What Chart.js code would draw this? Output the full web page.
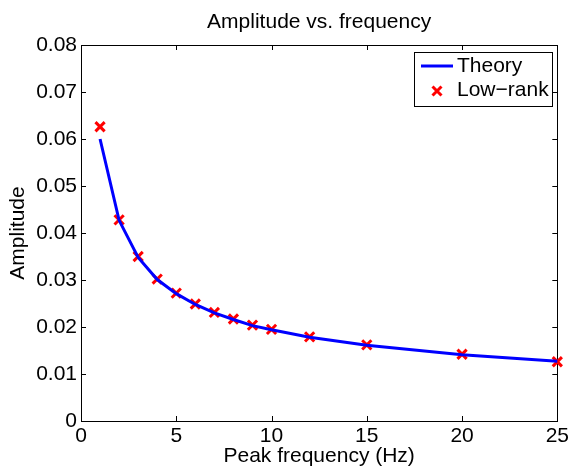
<!DOCTYPE html>
<html>
<head>
<meta charset="utf-8">
<script src="https://cdn.jsdelivr.net/npm/chart.js@4/dist/chart.umd.min.js"></script>
<style>
  body { margin: 0; background: #fff; }
</style>
</head>
<body>
<canvas id="chart-amplitude" width="572" height="471"></canvas>
<script>
// values
const frequencies = [1, 2, 3, 4, 5, 6, 7, 8, 9, 10, 12, 15, 20, 25];
const theoryAmp = [0.0600, 0.0427, 0.0348, 0.0301, 0.0271, 0.0248, 0.0230, 0.0216, 0.0203, 0.0194, 0.0178, 0.0161, 0.0141, 0.0127];
const lowRankAmp = [0.0626, 0.0428, 0.0350, 0.0302, 0.0272, 0.0249, 0.0231, 0.0217, 0.0204, 0.0195, 0.0179, 0.0162, 0.0142, 0.0126];
const xTicks = [0, 5, 10, 15, 20, 25];
const yTicks = [0, 0.01, 0.02, 0.03, 0.04, 0.05, 0.06, 0.07, 0.08];

const fontFamily = "'Liberation Sans', Arial, Helvetica, sans-serif";
const fontSize = 21;
Chart.defaults.font.family = fontFamily;
Chart.defaults.color = "#000";

// box round the axes, ticks pointing inwards on all four sides
const matlabFrame = {
  id: "matlabFrame",
  beforeDatasetsDraw(chart) {
    const { ctx, chartArea: a, scales } = chart;
    ctx.save();
    ctx.strokeStyle = "#000";
    ctx.lineWidth = 1;
    ctx.beginPath();
    scales.x.ticks.forEach((t) => {
      const px = Math.round(scales.x.getPixelForValue(t.value)) + 0.5;
      ctx.moveTo(px, a.bottom);
      ctx.lineTo(px, a.bottom - 5);
      ctx.moveTo(px, a.top);
      ctx.lineTo(px, a.top + 5);
    });
    scales.y.ticks.forEach((t) => {
      const py = Math.round(scales.y.getPixelForValue(t.value)) + 0.5;
      ctx.moveTo(a.left, py);
      ctx.lineTo(a.left + 5, py);
      ctx.moveTo(a.right, py);
      ctx.lineTo(a.right - 5, py);
    });
    ctx.stroke();
    ctx.strokeRect(Math.round(a.left) + 0.5, Math.round(a.top) + 0.5,
      Math.round(a.right - a.left), Math.round(a.bottom - a.top));
    ctx.restore();
  },
};

// legend in a box at the top right of the axes
const boxLegend = {
  id: "boxLegend",
  afterDraw(chart) {
    const { ctx, chartArea: a } = chart;
    const ds = chart.data.datasets;
    const x0 = Math.round(a.right) - 143;
    const y0 = Math.round(a.top) + 7;
    ctx.save();
    ctx.fillStyle = "#fff";
    ctx.fillRect(x0, y0, 138, 54);
    ctx.strokeStyle = "#000";
    ctx.lineWidth = 1;
    ctx.strokeRect(x0 + 0.5, y0 + 0.5, 138, 54);

    ctx.strokeStyle = ds[0].borderColor;
    ctx.lineWidth = ds[0].borderWidth;
    ctx.beginPath();
    ctx.moveTo(x0 + 7, y0 + 14);
    ctx.lineTo(x0 + 39, y0 + 14);
    ctx.stroke();

    ctx.strokeStyle = ds[1].borderColor;
    ctx.lineWidth = ds[1].borderWidth;
    ctx.beginPath();
    const cx = x0 + 23, cy = y0 + 39, r = 4.5;
    ctx.moveTo(cx - r, cy - r);
    ctx.lineTo(cx + r, cy + r);
    ctx.moveTo(cx - r, cy + r);
    ctx.lineTo(cx + r, cy - r);
    ctx.stroke();

    ctx.fillStyle = "#000";
    ctx.font = fontSize + "px " + fontFamily;
    ctx.textBaseline = "middle";
    ctx.textAlign = "left";
    ctx.fillText(ds[0].label, x0 + 43, y0 + 14);
    ctx.fillText(ds[1].label, x0 + 43, y0 + 38.5);
    ctx.restore();
  },
};

const ctxAmplitude = document.getElementById("chart-amplitude");
new Chart(ctxAmplitude, {
  type: "line",
  data: {
    datasets: [
      {
        label: "Theory",
        data: frequencies.map((f, i) => ({ x: f, y: theoryAmp[i] })),
        borderColor: "#0000ff",
        backgroundColor: "#0000ff",
        borderWidth: 3,
        pointRadius: 0,
        tension: 0,
        clip: false,
      },
      {
        label: "Low\u2212rank",
        data: frequencies.map((f, i) => ({ x: f, y: lowRankAmp[i] })),
        showLine: false,
        pointStyle: "crossRot",
        pointRadius: 6.5,
        borderColor: "#ff0000",
        backgroundColor: "#ff0000",
        borderWidth: 3,
        clip: false,
      },
    ],
  },
  options: {
    responsive: false,
    animation: false,
    events: [],
    layout: { padding: { left: 0, right: 13, top: 0, bottom: 0 } },
    plugins: {
      legend: { display: false },
      tooltip: { enabled: false },
      title: {
        display: true,
        fullSize: false,
        text: "Amplitude vs. frequency",
        color: "#000",
        font: { size: fontSize, weight: "normal" },
        padding: { top: 10, bottom: 9.8 },
      },
    },
    scales: {
      x: {
        type: "linear",
        min: 0,
        max: 25,
        afterFit: (scale) => { scale.height = 50; },
        afterBuildTicks: (scale) => { scale.ticks = xTicks.map((v) => ({ value: v })); },
        grid: { display: false, drawTicks: false },
        border: { display: false },
        ticks: { font: { size: fontSize }, padding: 3, color: "#000", maxRotation: 0 },
        title: {
          display: true,
          text: "Peak frequency (Hz)",
          font: { size: fontSize },
          color: "#000",
          padding: { top: 0, bottom: 2 },
        },
      },
      y: {
        type: "linear",
        min: 0,
        max: 0.08,
        afterFit: (scale) => { scale.width = 81; },
        afterBuildTicks: (scale) => { scale.ticks = yTicks.map((v) => ({ value: v })); },
        grid: { display: false, drawTicks: false },
        border: { display: false },
        ticks: {
          font: { size: fontSize },
          padding: 4,
          color: "#000",
          callback: (v) => (v === 0 ? "0" : v.toFixed(2)),
        },
        title: {
          display: true,
          text: "Amplitude",
          font: { size: fontSize },
          color: "#000",
          padding: { top: 6, bottom: 0 },
        },
      },
    },
  },
  plugins: [matlabFrame, boxLegend],
});
</script>
</body>
</html>
